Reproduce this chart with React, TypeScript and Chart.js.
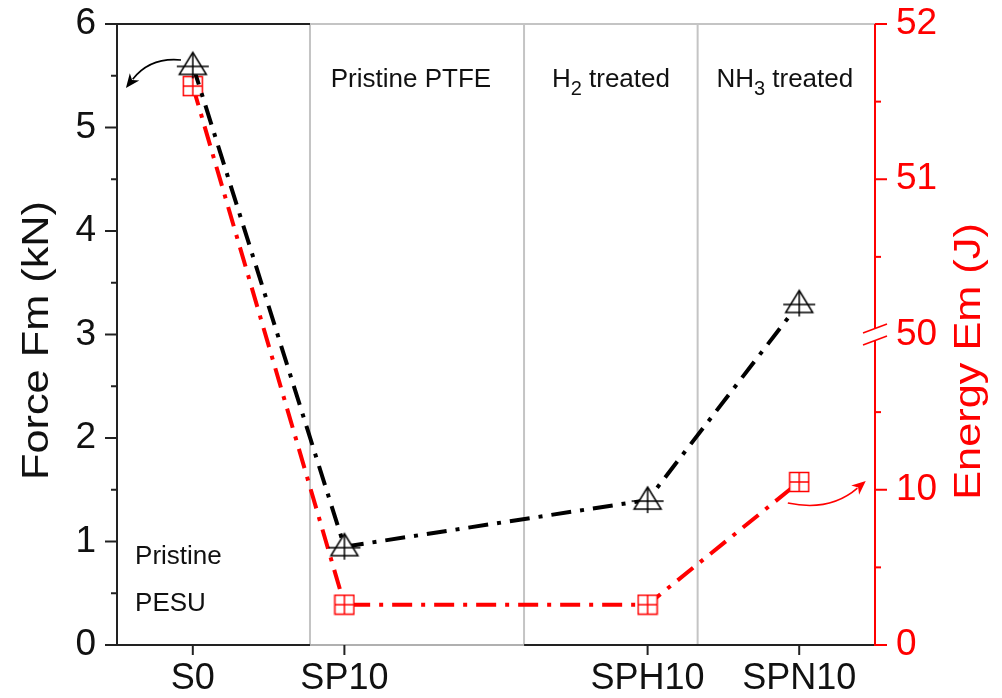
import React, { useEffect, useRef } from 'react';
import { Chart, registerables } from 'chart.js';

Chart.register(...registerables);

// ---------------- data ----------------
const CATEGORIES = ['S0', 'SP10', 'SPH10', 'SPN10'];
const CATEGORY_X = [1, 2, 4, 5];
const FORCE_KN = [5.6, 0.95, 1.4, 3.3];
const ENERGY_J = [51.6, 2.6, 2.6, 10.5];
const FORCE_TICKS = [0, 1, 2, 3, 4, 5, 6];
const FORCE_MINOR = [0.5, 1.5, 2.5, 3.5, 4.5, 5.5];
const ENERGY_TICKS = [0, 10, 50, 51, 52];
const ENERGY_MINOR = [5, 15, 50.5, 51.5];
const ENERGY_BREAK = 50;
const FORCE_TITLE = 'Force Fm (kN)';
const ENERGY_TITLE = 'Energy Em (J)';
const DIVIDERS = [1.773, 3.185, 4.33];
const REGION_LABELS = [
  { parts: [['Pristine PTFE', 0]], x: 2.439, y: 5.46 },
  { parts: [['H', 0], ['2', 1], [' treated', 0]], x: 3.758, y: 5.46 },
  { parts: [['NH', 0], ['3', 1], [' treated', 0]], x: 4.905, y: 5.46 },
];
const SIDE_LABELS = [
  { text: 'Pristine', x: 0.619, y: 0.85 },
  { text: 'PESU', x: 0.619, y: 0.396 },
];
// arrows in data coords (x, force)
const ARROWS = [
  { pts: [[0.922, 5.652], [0.718, 5.681], [0.559, 5.382]], color: '#000000' },
  { pts: [[4.925, 1.372], [5.202, 1.285], [5.439, 1.585]], color: '#ff0000' },
];

// broken energy axis: 0–20 J on the lower half, 50–52 J above the break
const energyToAxis = (v: number) => (v <= 20 ? v / 10 : v - 48);

const FONT = "'Liberation Sans', Arial, sans-serif";

function makeTriangle(): HTMLCanvasElement {
  const c = document.createElement('canvas');
  c.width = 36; c.height = 34;
  const g = c.getContext('2d')!;
  g.strokeStyle = '#000';
  g.lineWidth = 1.5;
  g.fillStyle = '#fff';
  g.beginPath();
  g.moveTo(18, 4); g.lineTo(31.5, 26); g.lineTo(4.5, 26); g.closePath();
  g.fill(); g.stroke();
  g.beginPath();
  g.moveTo(2, 18); g.lineTo(34, 18);
  g.moveTo(18, 4); g.lineTo(18, 30);
  g.stroke();
  return c;
}

function makeSquare(): HTMLCanvasElement {
  const c = document.createElement('canvas');
  c.width = 22; c.height = 22;
  const g = c.getContext('2d')!;
  g.strokeStyle = '#ff0000';
  g.lineWidth = 1.5;
  g.fillStyle = '#fff';
  g.fillRect(1.5, 1.5, 19, 19);
  g.strokeRect(1.5, 1.5, 19, 19);
  g.beginPath();
  g.moveTo(11, 1.5); g.lineTo(11, 20.5);
  g.moveTo(1.5, 11); g.lineTo(20.5, 11);
  g.stroke();
  return c;
}

function drawArrow(ctx: CanvasRenderingContext2D, p: number[][], color: string) {
  const [s, c, e] = p;
  ctx.save();
  ctx.strokeStyle = color;
  ctx.fillStyle = color;
  ctx.lineWidth = 1.6;
  const ang = Math.atan2(e[1] - c[1], e[0] - c[0]);
  const L = 14, W = 6;
  const bx = e[0] - Math.cos(ang) * (L - 3);
  const by = e[1] - Math.sin(ang) * (L - 3);
  ctx.beginPath();
  ctx.moveTo(s[0], s[1]);
  ctx.quadraticCurveTo(c[0], c[1], bx, by);
  ctx.stroke();
  ctx.beginPath();
  ctx.moveTo(e[0], e[1]);
  ctx.lineTo(e[0] - Math.cos(ang) * L - Math.sin(ang) * W, e[1] - Math.sin(ang) * L + Math.cos(ang) * W);
  ctx.lineTo(e[0] - Math.cos(ang) * (L - 4), e[1] - Math.sin(ang) * (L - 4));
  ctx.lineTo(e[0] - Math.cos(ang) * L + Math.sin(ang) * W, e[1] - Math.sin(ang) * L - Math.cos(ang) * W);
  ctx.closePath();
  ctx.fill();
  ctx.restore();
}

function drawVerticalTitle(ctx: CanvasRenderingContext2D, text: string, x: number, y: number, color: string) {
  ctx.save();
  ctx.translate(x, y);
  ctx.rotate(-Math.PI / 2);
  ctx.scale(1.17, 1);
  ctx.font = `37px ${FONT}`;
  ctx.fillStyle = color;
  ctx.textAlign = 'center';
  ctx.textBaseline = 'middle';
  ctx.fillText(text, 0, 0);
  ctx.restore();
}

const decorPlugin = {
  id: 'decor',
  beforeDatasetsDraw(chart: any) {
    const { ctx, chartArea: a, scales } = chart;
    const xs = scales.x, ys = scales.y, y2 = scales.y2;
    const d = DIVIDERS.map((v) => xs.getPixelForValue(v));
    ctx.save();
    ctx.lineCap = 'butt';
    // divider lines (gray)
    ctx.strokeStyle = '#c4c4c4';
    ctx.lineWidth = 2;
    d.forEach((px) => {
      ctx.beginPath(); ctx.moveTo(px, a.top); ctx.lineTo(px, a.bottom); ctx.stroke();
    });
    // top border
    ctx.beginPath(); ctx.strokeStyle = '#c4c4c4';
    ctx.moveTo(d[0], a.top); ctx.lineTo(a.right, a.top); ctx.stroke();
    ctx.beginPath(); ctx.strokeStyle = '#222';
    ctx.moveTo(a.left - 1, a.top); ctx.lineTo(d[0], a.top); ctx.stroke();
    // bottom border
    ctx.beginPath(); ctx.strokeStyle = '#222';
    ctx.moveTo(a.left - 1, a.bottom); ctx.lineTo(d[0], a.bottom);
    ctx.moveTo(d[1], a.bottom); ctx.lineTo(a.right, a.bottom); ctx.stroke();
    ctx.beginPath(); ctx.strokeStyle = '#b0b0b0';
    ctx.moveTo(d[0], a.bottom); ctx.lineTo(d[1], a.bottom); ctx.stroke();
    // left axis
    ctx.strokeStyle = '#222';
    ctx.beginPath(); ctx.moveTo(a.left, a.top); ctx.lineTo(a.left, a.bottom + 1); ctx.stroke();
    FORCE_TICKS.forEach((v) => {
      const py = ys.getPixelForValue(v);
      ctx.beginPath(); ctx.moveTo(a.left - 12, py); ctx.lineTo(a.left, py); ctx.stroke();
    });
    FORCE_MINOR.forEach((v) => {
      const py = ys.getPixelForValue(v);
      ctx.beginPath(); ctx.moveTo(a.left - 6, py); ctx.lineTo(a.left, py); ctx.stroke();
    });
    // bottom ticks
    CATEGORY_X.forEach((v) => {
      const px = xs.getPixelForValue(v);
      ctx.beginPath(); ctx.moveTo(px, a.bottom); ctx.lineTo(px, a.bottom + 10); ctx.stroke();
    });
    // right axis (red, broken)
    ctx.strokeStyle = '#ff0000';
    const yb = y2.getPixelForValue(energyToAxis(ENERGY_BREAK));
    ctx.beginPath();
    ctx.moveTo(a.right, a.top); ctx.lineTo(a.right, yb - 6);
    ctx.moveTo(a.right, yb + 6); ctx.lineTo(a.right, a.bottom + 1);
    ctx.stroke();
    ctx.lineWidth = 1.6;
    [-6, 6].forEach((o) => {
      ctx.beginPath();
      ctx.moveTo(a.right - 12, yb + o + 4.5); ctx.lineTo(a.right + 12, yb + o - 4.5);
      ctx.stroke();
    });
    ctx.lineWidth = 2;
    ENERGY_TICKS.forEach((v) => {
      if (v === ENERGY_BREAK) return;
      const py = y2.getPixelForValue(energyToAxis(v));
      ctx.beginPath(); ctx.moveTo(a.right, py); ctx.lineTo(a.right + 12, py); ctx.stroke();
    });
    ENERGY_MINOR.forEach((v) => {
      const py = y2.getPixelForValue(energyToAxis(v));
      ctx.beginPath(); ctx.moveTo(a.right, py); ctx.lineTo(a.right + 6, py); ctx.stroke();
    });
    ctx.restore();
  },
  afterDatasetsDraw(chart: any) {
    const { ctx, scales, chartArea: a } = chart;
    const xs = scales.x, ys = scales.y;
    ctx.save();
    ctx.fillStyle = '#111';
    ctx.textBaseline = 'middle';
    REGION_LABELS.forEach((lab) => {
      const widths = lab.parts.map(([t, sub]: any) => {
        ctx.font = `${sub ? 20 : 26}px ${FONT}`;
        return ctx.measureText(t).width;
      });
      const total = widths.reduce((s: number, w: number) => s + w, 0);
      let x = xs.getPixelForValue(lab.x) - total / 2;
      const y = ys.getPixelForValue(lab.y);
      ctx.textAlign = 'left';
      lab.parts.forEach(([t, sub]: any, i: number) => {
        ctx.font = `${sub ? 20 : 26}px ${FONT}`;
        ctx.fillText(t, x, sub ? y + 10 : y);
        x += widths[i];
      });
    });
    ctx.font = `26px ${FONT}`;
    ctx.textAlign = 'left';
    SIDE_LABELS.forEach((lab) => {
      ctx.fillText(lab.text, xs.getPixelForValue(lab.x), ys.getPixelForValue(lab.y));
    });
    ARROWS.forEach((ar) => {
      const p = ar.pts.map(([vx, vy]) => [xs.getPixelForValue(vx), ys.getPixelForValue(vy)]);
      drawArrow(ctx, p, ar.color);
    });
    const mid = (a.top + a.bottom) / 2;
    drawVerticalTitle(ctx, FORCE_TITLE, 38, mid + 6, '#111');
    drawVerticalTitle(ctx, ENERGY_TITLE, 970, mid + 27, '#ff0000');
    ctx.restore();
  },
};

export default function App() {
  const ref = useRef<HTMLCanvasElement>(null);
  useEffect(() => {
    if (!ref.current) return;
    const tri = makeTriangle();
    const sq = makeSquare();
    const chart = new Chart(ref.current, {
      type: 'line',
      data: {
        datasets: [
          {
            label: FORCE_TITLE,
            data: CATEGORY_X.map((x, i) => ({ x, y: FORCE_KN[i] })),
            yAxisID: 'y',
            borderColor: '#000000',
            borderWidth: 4,
            borderDash: [20, 9, 4, 9],
            pointStyle: tri as any,
            pointRadius: 12,
            tension: 0,
          },
          {
            label: ENERGY_TITLE,
            data: CATEGORY_X.map((x, i) => ({ x, y: energyToAxis(ENERGY_J[i]) })),
            yAxisID: 'y2',
            borderColor: '#ff0000',
            borderWidth: 4,
            borderDash: [20, 9, 4, 9],
            pointStyle: sq as any,
            pointRadius: 10,
            tension: 0,
          },
        ],
      },
      options: {
        animation: false,
        responsive: true,
        maintainAspectRatio: false,
        layout: { padding: { top: 24, left: 0, right: 0, bottom: 0 } },
        plugins: { legend: { display: false }, tooltip: { enabled: false } },
        scales: {
          x: {
            type: 'linear',
            min: 0.5,
            max: 5.5,
            grid: { display: false, drawTicks: false },
            border: { display: false },
            afterBuildTicks: (s: any) => { s.ticks = CATEGORY_X.map((v) => ({ value: v })); },
            afterFit: (s: any) => { s.height = 53; s.paddingLeft = 0; s.paddingRight = 0; },
            ticks: {
              autoSkip: false,
              maxRotation: 0,
              padding: 12,
              color: '#111',
              font: { family: FONT, size: 36 },
              callback: (_v: any, i: number) => CATEGORIES[i],
            },
          },
          y: {
            type: 'linear',
            position: 'left',
            min: 0,
            max: 6,
            grid: { display: false, drawTicks: false },
            border: { display: false },
            afterBuildTicks: (s: any) => { s.ticks = FORCE_TICKS.map((v) => ({ value: v })); },
            afterFit: (s: any) => { s.width = 117; s.paddingTop = 0; s.paddingBottom = 0; },
            ticks: { padding: 21, color: '#111', font: { family: FONT, size: 37 } },
          },
          y2: {
            type: 'linear',
            position: 'right',
            min: 0,
            max: 4,
            grid: { display: false, drawTicks: false },
            border: { display: false },
            afterBuildTicks: (s: any) => { s.ticks = ENERGY_TICKS.map((v) => ({ value: energyToAxis(v) })); },
            afterFit: (s: any) => { s.width = 1002 - 875; s.paddingTop = 0; s.paddingBottom = 0; },
            ticks: {
              padding: 21,
              color: '#ff0000',
              font: { family: FONT, size: 37 },
              callback: (_v: any, i: number) => String(ENERGY_TICKS[i]),
            },
          },
        },
      },
      plugins: [decorPlugin],
    });
    return () => chart.destroy();
  }, []);
  return (
    <div style={{ position: 'fixed', left: 0, top: 0, width: 1002, height: 698, background: '#fff' }}>
      <canvas ref={ref} />
    </div>
  );
}
